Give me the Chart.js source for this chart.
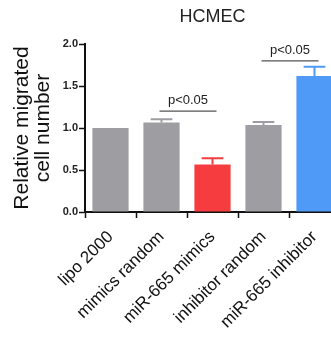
<!DOCTYPE html>
<html>
<head>
<meta charset="utf-8">
<script src="https://cdn.jsdelivr.net/npm/chart.js@4"></script>
<style>
  html, body { margin: 0; padding: 0; background: #fff; overflow: hidden; }
  #wrap { width: 350px; height: 341px; }
</style>
</head>
<body>
<div id="wrap"><canvas id="migChart"></canvas></div>
<script>
// data
const groups = ['lipo 2000', 'mimics random', 'miR-665 mimics', 'inhibitor random', 'miR-665 inhibitor'];
const means = [1.0, 1.065, 0.565, 1.035, 1.62];
const errs = [0.0, 0.04, 0.075, 0.035, 0.11];
const barColors = ['#9e9da2', '#9e9da2', '#f63c3e', '#9e9da2', '#4e9af6'];
const yTicks = [0, 0.5, 1.0, 1.5, 2.0];
// significance brackets: [from index, to index, height, label]
const sigFrom = [1, 3];
const sigTo = [2, 4];
const sigY = [1.2, 1.8];
const sigText = ['p<0.05', 'p<0.05'];

const FONT = '"Liberation Sans", Arial, sans-serif';

// error bars, upward only, same colour as bar
const errorBars = {
  id: 'errorBars',
  afterDatasetsDraw(chart) {
    const ctx = chart.ctx;
    const y = chart.scales.y;
    const meta = chart.getDatasetMeta(0);
    ctx.save();
    ctx.lineWidth = 2;
    meta.data.forEach((bar, i) => {
      if (!errs[i]) return;
      const top = y.getPixelForValue(means[i] + errs[i]);
      const cap = bar.width * 0.3;
      ctx.strokeStyle = barColors[i];
      ctx.beginPath();
      ctx.moveTo(bar.x, bar.y);
      ctx.lineTo(bar.x, top);
      ctx.moveTo(bar.x - cap, top);
      ctx.lineTo(bar.x + cap, top);
      ctx.stroke();
    });
    ctx.restore();
  }
};

const sigMarks = {
  id: 'sigMarks',
  afterDatasetsDraw(chart) {
    const ctx = chart.ctx;
    const x = chart.scales.x;
    const y = chart.scales.y;
    ctx.save();
    ctx.strokeStyle = '#555';
    ctx.lineWidth = 1.2;
    ctx.fillStyle = '#222';
    ctx.font = '13px ' + FONT;
    ctx.textAlign = 'center';
    ctx.textBaseline = 'bottom';
    sigFrom.forEach((a, k) => {
      const x1 = x.getPixelForValue(a) - 2;
      const x2 = x.getPixelForValue(sigTo[k]) + 4;
      const py = y.getPixelForValue(sigY[k]);
      ctx.beginPath();
      ctx.moveTo(x1, py);
      ctx.lineTo(x2, py);
      ctx.stroke();
      ctx.fillText(sigText[k], (x1 + x2) / 2, py - 4);
    });
    ctx.restore();
  }
};

const ctx = document.getElementById('migChart').getContext('2d');
new Chart(ctx, {
  type: 'bar',
  data: {
    labels: groups,
    datasets: [{
      data: means,
      backgroundColor: barColors,
      borderWidth: 0,
      barPercentage: 0.71,
      categoryPercentage: 1.0
    }]
  },
  options: {
    responsive: true,
    maintainAspectRatio: false,
    animation: false,
    layout: { padding: { left: 0, right: 10, top: 0, bottom: 0 } },
    plugins: {
      legend: { display: false },
      tooltip: { enabled: false },
      title: {
        display: true,
        fullSize: false,
        text: 'HCMEC',
        color: '#222',
        font: { family: FONT, size: 18, weight: 'normal', lineHeight: 1.2 },
        padding: { top: 6, bottom: 16.4 }
      }
    },
    scales: {
      x: {
        grid: { drawOnChartArea: false, color: '#111', tickLength: 6, tickWidth: 1.5 },
        border: { color: '#111', width: 2 },
        ticks: {
          color: '#111',
          maxRotation: 45,
          minRotation: 45,
          padding: 9,
          font: { family: FONT, size: 17 }
        },
        afterFit(scale) { scale.height = 129; }
      },
      y: {
        min: 0,
        max: 2,
        afterBuildTicks(scale) { scale.ticks = yTicks.map(v => ({ value: v })); },
        grid: { drawOnChartArea: false, color: '#111', tickLength: 6, tickWidth: 1.5 },
        border: { color: '#111', width: 2 },
        ticks: {
          color: '#222',
          padding: 1,
          font: { family: FONT, size: 11, weight: 'bold' },
          callback: v => Number(v).toFixed(1)
        },
        title: {
          display: true,
          text: ['Relative migrated', 'cell number'],
          color: '#111',
          font: { family: FONT, size: 21, lineHeight: 1.0 },
          padding: { top: 12, bottom: 4 }
        },
        afterFit(scale) { scale.width = 85; }
      }
    }
  },
  plugins: [errorBars, sigMarks]
});
</script>
</body>
</html>
